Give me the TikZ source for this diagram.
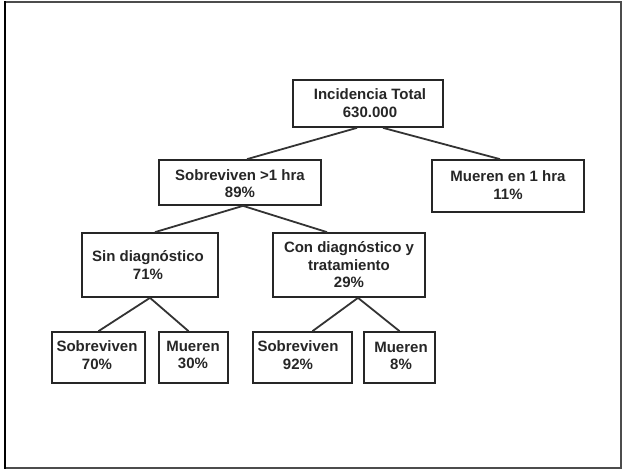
\documentclass[tikz,border=0pt]{standalone}
\usepackage{fontspec}
\setmainfont{Liberation Sans}
\begin{document}
\begin{tikzpicture}[x=1pt,y=-1pt,
  box/.style={draw=black!85,line width=1.7pt,fill=white,inner sep=0pt},
  txt/.style={font=\fontsize{15}{17.5}\selectfont\bfseries,align=center,inner sep=0pt,text=black!85},
  link/.style={draw=black!80,line width=1.8pt}]
\useasboundingbox (0,0) rectangle (624,470);
\draw[black!70,line width=1.2pt] (5,2) rectangle (621,468);
\draw[black,line width=2pt] (5,1.5) -- (5,468.5);
% boxes
\node[box,minimum width=150,minimum height=47] (inc) at (368,103.5) {};
\node[box,minimum width=162,minimum height=45] (sob) at (240,182.5) {};
\node[box,minimum width=152,minimum height=52] (mue) at (508,186) {};
\node[box,minimum width=136,minimum height=64] (sin) at (150,265) {};
\node[box,minimum width=152,minimum height=64] (con) at (349,265) {};
\node[box,minimum width=93,minimum height=51] (s70) at (98.5,357.5) {};
\node[box,minimum width=69,minimum height=51] (m30) at (193.5,357.5) {};
\node[box,minimum width=99,minimum height=51] (s92) at (302.5,357.5) {};
\node[box,minimum width=71,minimum height=51] (m8) at (399.5,357.5) {};
% texts
\node[txt] (tinc) at (370,103) {Incidencia Total\\630.000};
\node[txt] (tsob) at (240,183.5) {Sobreviven >1 hra\\89\%};
\node[txt] (tmue) at (508,185) {Mueren en 1 hra\\11\%};
\node[txt] (tsin) at (148,265) {Sin diagnóstico\\71\%};
\node[txt] (tcon) at (349,265) {Con diagnóstico y\\tratamiento\\29\%};
\node[txt] (ts70) at (97,355) {Sobreviven\\70\%};
\node[txt] (tm30) at (193,355) {Mueren\\30\%};
\node[txt] (ts92) at (298,355) {Sobreviven\\92\%};
\node[txt] (tm8) at (401,356) {Mueren\\8\%};
% connectors
\draw[link] ([xshift=-11pt]inc.south) -- ([xshift=7pt]sob.north);
\draw[link] ([xshift=15pt]inc.south) -- ([xshift=-8pt]mue.north);
\draw[link] ([xshift=3pt]sob.south) -- ([xshift=5pt]sin.north);
\draw[link] ([xshift=3pt]sob.south) -- ([xshift=-22pt]con.north);
\draw[link] (sin.south) -- (s70.north);
\draw[link] (sin.south) -- ([xshift=-5pt]m30.north);
\draw[link] ([xshift=9pt]con.south) -- ([xshift=10pt]s92.north);
\draw[link] ([xshift=9pt]con.south) -- (m8.north);
\end{tikzpicture}
\end{document}
